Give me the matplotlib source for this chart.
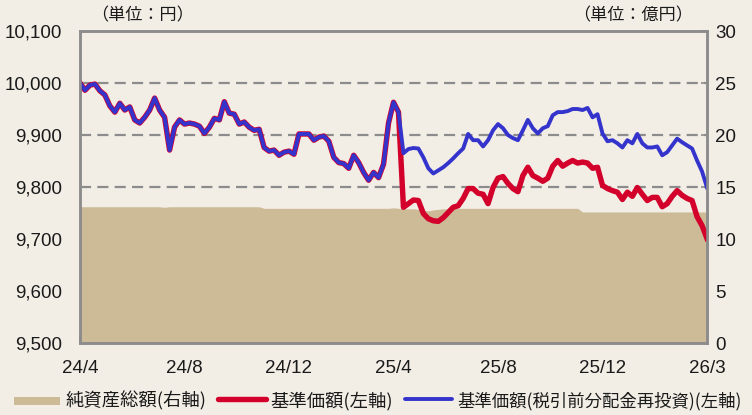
import matplotlib.pyplot as plt
from matplotlib.patches import Rectangle
from matplotlib.lines import Line2D
import numpy as np

# --- data ---
tick_labels = ["24/4", "24/8", "24/12", "25/4", "25/8", "25/12", "26/3"]

# 基準価額, common part before the April 2025 distribution
nav_common = [
    10000, 9986, 9996, 9998, 9985, 9977, 9956, 9944, 9961, 9948,
    9954, 9929, 9923, 9934, 9948, 9971, 9948, 9934, 9871, 9915,
    9929, 9921, 9923, 9921, 9917, 9903, 9915, 9932, 9929, 9964,
    9942, 9940, 9921, 9925, 9915, 9909, 9911, 9876, 9869, 9871,
    9861, 9867, 9869, 9863, 9902, 9902, 9902, 9890, 9896, 9898,
    9888, 9857, 9847, 9845, 9836, 9861, 9847, 9828, 9813, 9828,
    9818, 9844, 9923, 9963, 9944,
]

nav_tail = [
    9761, 9768, 9775, 9774, 9749, 9739, 9735, 9734, 9741, 9751,
    9761, 9764, 9778, 9797, 9797, 9788, 9786, 9768, 9799, 9817,
    9820, 9807, 9797, 9791, 9822, 9838, 9822, 9817, 9811, 9817,
    9840, 9851, 9840, 9846, 9851, 9846, 9848, 9846, 9836, 9838,
    9803, 9797, 9793, 9790, 9776, 9790, 9782, 9799, 9786, 9774,
    9780, 9780, 9762, 9768, 9782, 9793, 9784, 9778, 9774, 9743,
    9726, 9701,
]

reinv_tail = [
    9865, 9873, 9875, 9874, 9857, 9836, 9826, 9832, 9838, 9846,
    9855, 9865, 9874, 9902, 9890, 9890, 9878, 9890, 9909, 9921,
    9913, 9900, 9894, 9890, 9909, 9929, 9913, 9903, 9913, 9917,
    9938, 9944, 9944, 9946, 9950, 9950, 9948, 9952, 9934, 9940,
    9903, 9888, 9890, 9884, 9876, 9890, 9884, 9902, 9884, 9876,
    9876, 9878, 9861, 9867, 9880, 9893, 9886, 9880, 9874, 9851,
    9830, 9799,
]

# 純資産総額 (億円)
net_assets = [
    13.1, 13.1, 13.1, 13.1, 13.1, 13.1, 13.1, 13.1, 13.1, 13.1,
    13.1, 13.1, 13.1, 13.1, 13.1, 13.1, 13.1, 13.05, 13.1, 13.1,
    13.1, 13.1, 13.1, 13.1, 13.1, 13.1, 13.1, 13.1, 13.1, 13.1,
    13.1, 13.1, 13.1, 13.1, 13.1, 13.1, 13.1, 12.95, 12.95, 12.95,
    12.95, 12.95, 12.95, 12.95, 12.95, 12.95, 12.95, 12.95, 12.95, 12.95,
    12.95, 12.95, 12.95, 12.95, 12.95, 12.95, 12.95, 12.95, 12.95, 12.95,
    12.95, 12.95, 12.95, 13.0, 12.95, 12.9, 12.9, 12.9, 12.85, 12.8,
    12.7, 12.8, 12.85, 12.9, 12.9, 12.95, 12.95, 12.95, 12.95, 12.95,
    12.95, 12.95, 12.95, 12.95, 12.95, 12.95, 12.95, 12.95, 12.95, 12.95,
    12.95, 12.95, 12.95, 12.95, 12.95, 12.95, 12.95, 12.95, 12.95, 12.95,
    12.95, 12.6, 12.6, 12.6, 12.6, 12.6, 12.6, 12.6, 12.6, 12.6,
    12.6, 12.6, 12.6, 12.6, 12.6, 12.6, 12.6, 12.6, 12.6, 12.6,
    12.6, 12.6, 12.6, 12.6, 12.6, 12.6, 12.6,
]

price = nav_common + nav_tail
price_reinv = nav_common + reinv_tail

# --- style ---
bg = "#F2EEE6"
tan = "#CCBB96"
red = "#D2002A"
blue = "#3434CC"
grey = "#8C8C8C"
txt = "#1a1a1a"

num_font = "Liberation Sans"
jp_font = ["Noto Sans CJK JP", "DejaVu Sans"]

fig = plt.figure(figsize=(7.52, 4.15), dpi=100, facecolor=bg)
ax2 = fig.add_axes([80 / 752, 1 - 343 / 415, 627 / 752, 312 / 415])
ax = ax2.twinx()
ax2.yaxis.tick_right()
ax.yaxis.tick_left()
ax.set_zorder(ax2.get_zorder() + 1)
ax.patch.set_visible(False)
ax2.patch.set_visible(False)

x = np.arange(len(price))

# net assets on the right axis
ax2.fill_between(x, net_assets, 0, color=tan, linewidth=0, zorder=2)
ax2.set_ylim(0, 30)
ax2.set_yticks(range(0, 31, 5))
ax2.set_axisbelow(True)
ax2.grid(axis="y", color=grey, linestyle=(0, (5, 2.8)), linewidth=1.6)
ax2.set_xlim(0, len(price) - 1)
ax2.set_xticks(np.linspace(0, len(price) - 1, 7))
ax2.set_xticklabels(tick_labels)

# prices on the left axis
ax.plot(x, price, color=red, linewidth=3.9, solid_joinstyle="round")
ax.plot(x, price_reinv, color=blue, linewidth=2.8, solid_joinstyle="round")
ax.set_ylim(9500, 10100)
ax.set_yticks(range(9500, 10101, 100))
ax.set_yticklabels([f"{v:,}" for v in range(9500, 10101, 100)])
ax.set_xlim(0, len(price) - 1)

for a in (ax, ax2):
    for s in a.spines.values():
        s.set_color(grey)
        s.set_linewidth(1.8)

ax.tick_params(axis="y", direction="in", length=0, pad=13, labelsize=13.5, labelcolor=txt)
ax2.tick_params(axis="y", direction="in", length=4, width=1.2, color=grey, pad=6,
                labelsize=13.5, labelcolor=txt)
ax2.tick_params(axis="x", direction="in", length=4, width=1.2, color=grey, pad=12,
                labelsize=13.5, labelcolor=txt)
ax.tick_params(axis="x", length=0, labelbottom=False)
for lab in ax.get_yticklabels() + ax2.get_yticklabels() + ax2.get_xticklabels():
    lab.set_fontfamily(num_font)

# unit labels
fig.text(91 / 752, 1 - 15 / 415, "（単位：円）", family=jp_font, fontsize=12.3,
         va="center", ha="left", color=txt)
fig.text(573 / 752, 1 - 15 / 415, "（単位：億円）", family=jp_font, fontsize=12.3,
         va="center", ha="left", color=txt)

# legend along the bottom
ly = 1 - 401 / 415
fig.add_artist(Rectangle((14 / 752, 1 - 405 / 415), 46 / 752, 8 / 415,
                         transform=fig.transFigure, color=tan, linewidth=0))
fig.text(66 / 752, ly, "純資産総額(右軸)", family=jp_font, fontsize=13.2,
         va="center", ha="left", color=txt)
fig.add_artist(Line2D([218 / 752, 266 / 752], [1 - 399 / 415] * 2,
                      transform=fig.transFigure, color=red, linewidth=3.9,
                      solid_capstyle="round"))
fig.text(270 / 752, ly, "基準価額(左軸)", family=jp_font, fontsize=13.2,
         va="center", ha="left", color=txt)
fig.add_artist(Line2D([405 / 752, 452 / 752], [1 - 399 / 415] * 2,
                      transform=fig.transFigure, color=blue, linewidth=2.8,
                      solid_capstyle="round"))
fig.text(457 / 752, ly, "基準価額(税引前分配金再投資)(左軸)", family=jp_font, fontsize=12.5,
         va="center", ha="left", color=txt)

fig.savefig("out.png", dpi=100, facecolor=bg)
